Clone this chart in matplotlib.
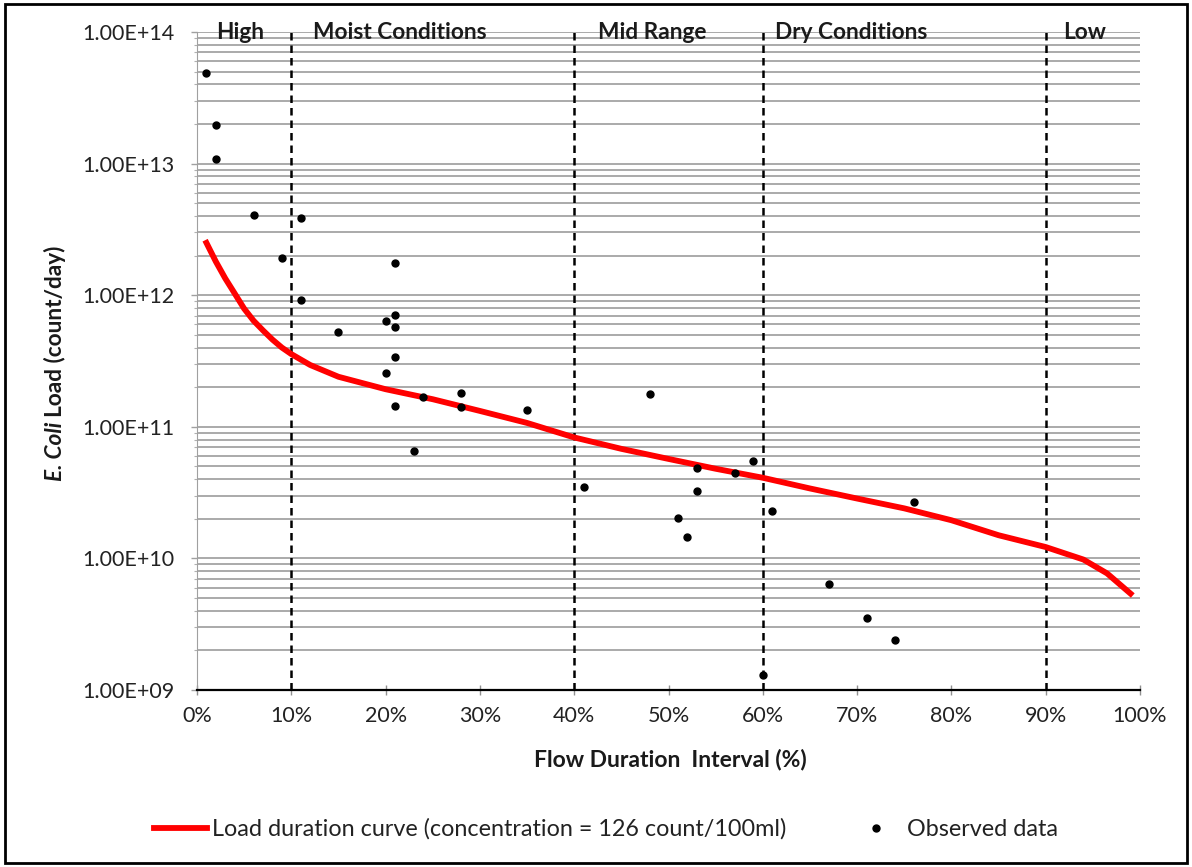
import numpy as np
import matplotlib.pyplot as plt
from matplotlib.ticker import LogLocator, NullFormatter, FuncFormatter
from matplotlib.patches import Rectangle

plt.rcParams['font.family'] = ['Lato', 'DejaVu Sans']

# observed E. coli loads (count/day) vs flow duration interval (%)
obs_pct = [1, 2, 2, 6, 11, 9, 21, 11, 21, 20, 21, 15, 21, 20, 24, 28, 21,
           28, 35, 23, 48, 41, 53, 57, 59, 53, 51, 52, 61, 76, 67, 71, 74, 60]
obs_load = [4.9e13, 1.96e13, 1.08e13, 4.07e12, 3.86e12, 1.92e12, 1.76e12,
            9.2e11, 7.07e11, 6.37e11, 5.73e11, 5.25e11, 3.39e11, 2.56e11,
            1.68e11, 1.81e11, 1.44e11, 1.41e11, 1.34e11, 6.55e10, 1.77e11,
            3.49e10, 4.86e10, 4.46e10, 5.5e10, 3.25e10, 2.03e10, 1.46e10,
            2.29e10, 2.68e10, 6.39e9, 3.52e9, 2.4e9, 1.3e9]

# load duration curve (126 count/100ml)
ldc_pct = [1, 2, 3, 4, 5, 6, 7, 8, 9, 10, 12, 15, 20, 25, 30, 35, 40, 45, 50,
           55, 60, 65, 70, 75, 80, 85, 90, 94, 96.5, 99]
ldc_load = [2.5e12, 1.8e12, 1.34e12, 1.03e12, 7.9e11, 6.4e11, 5.4e11, 4.6e11,
            4.0e11, 3.57e11, 2.95e11, 2.4e11, 1.93e11, 1.62e11, 1.32e11,
            1.07e11, 8.3e10, 6.8e10, 5.7e10, 4.8e10, 4.1e10, 3.4e10, 2.85e10,
            2.4e10, 1.95e10, 1.5e10, 1.22e10, 9.8e9, 7.7e9, 5.4e9]

zone_bounds = [10, 40, 60, 90]
zone_names = ['High', 'Moist Conditions', 'Mid Range', 'Dry Conditions', 'Low']
zone_mid = [4.6, 21.5, 48.3, 69.4, 94.1]

W, H = 1192, 867
fig = plt.figure(figsize=(W / 100, H / 100), dpi=100)
ax = fig.add_axes([197 / W, 1 - 690 / H, (1140 - 197) / W, (690 - 32) / H])

ax.set_yscale('log')
ax.set_xlim(0, 100)
ax.set_ylim(1e9, 1e14)

ax.yaxis.set_major_locator(LogLocator(base=10, numticks=10))
ax.yaxis.set_minor_locator(LogLocator(base=10, subs=np.arange(2, 10), numticks=20))
ax.yaxis.set_minor_formatter(NullFormatter())
ax.yaxis.set_major_formatter(FuncFormatter(lambda v, p: f'{v:.2E}'))
ax.set_xticks(range(0, 101, 10))
ax.set_xticklabels([f'{v}%' for v in range(0, 101, 10)])

ax.grid(axis='y', which='both', color='#9c9c9c', lw=1.2)
ax.set_axisbelow(True)

for b in zone_bounds:
    ax.axvline(b, color='black', ls=(0, (3, 2)), lw=1.8, zorder=2)

for m, name in zip(zone_mid, zone_names):
    ax.text(m, 1e14, name, ha='center', va='center', fontsize=16.3,
            fontweight='bold', color='#1a1a1a', zorder=5)

ax.plot(ldc_pct, ldc_load, color='#ff0000', lw=4.2, zorder=3,
        label='Load duration curve (concentration = 126 count/100ml)')
ax.plot(obs_pct, obs_load, 'o', color='black', ms=5, ls='none', zorder=4,
        clip_on=False, label='Observed data')

ax.spines['top'].set_visible(False)
ax.spines['right'].set_visible(False)
ax.spines['left'].set_color('#a0a0a0')
ax.spines['bottom'].set_color('black')
ax.spines['bottom'].set_linewidth(1.6)

ax.tick_params(axis='x', direction='inout', length=7, width=1, color='#909090',
               pad=8, labelsize=15.5, labelcolor='#222222')
ax.tick_params(axis='y', which='major', direction='out', length=4, width=1,
               color='#a0a0a0', pad=12, labelsize=15.5, labelcolor='#222222')
ax.tick_params(axis='y', which='minor', direction='out', length=2, width=0.8,
               color='#b0b0b0')

fig.text(670 / W, 1 - 760 / H, 'Flow Duration  Interval (%)', ha='center',
         va='center', fontsize=16.5, fontweight='bold', color='#1a1a1a')

# y label: italic species name + rest
fig.canvas.draw()
r = fig.canvas.get_renderer()
t1 = fig.text(55 / W, 1 - 481 / H, 'E. Coli', rotation=90, ha='center',
              va='bottom', fontsize=16.3, fontweight='bold', fontstyle='italic',
              color='#1a1a1a')
ext = t1.get_window_extent(renderer=r)
fig.text(55 / W, (ext.y1 + 5) / H, 'Load (count/day)', rotation=90,
         ha='center', va='bottom', fontsize=16.3, fontweight='bold',
         color='#1a1a1a')

fig.legend(loc='center', bbox_to_anchor=(606 / W, 1 - 829 / H), ncol=2,
           frameon=False, fontsize=16.8, handlelength=2.3, handletextpad=0.2,
           columnspacing=2.7, borderpad=0, labelcolor='#222222')

fig.add_artist(Rectangle((0.004, 0.005), 0.992, 0.99, transform=fig.transFigure,
                         fill=False, edgecolor='black', lw=2))

plt.savefig('out.png', dpi=100)
